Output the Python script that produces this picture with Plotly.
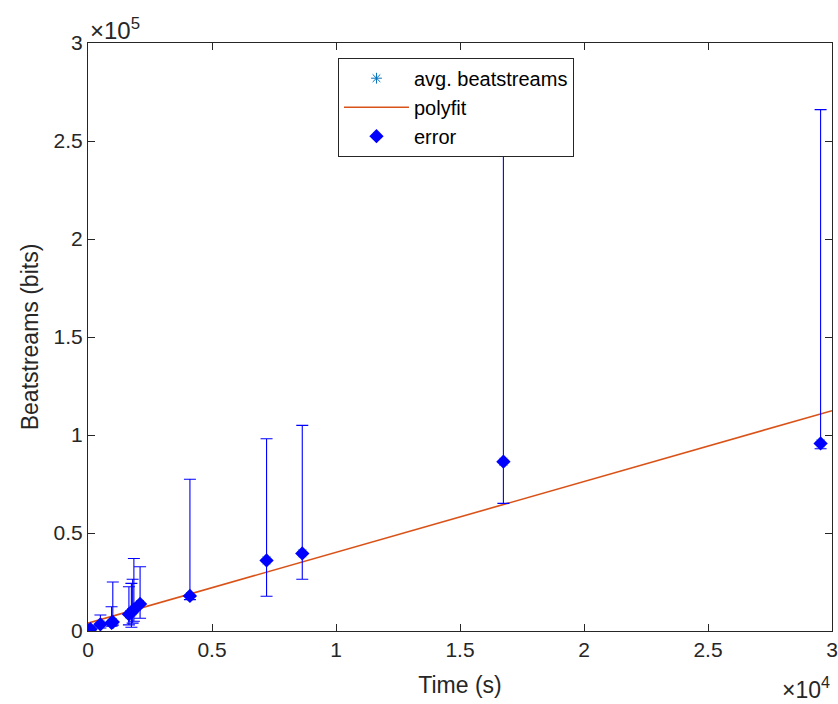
import plotly.graph_objects as go

# --- data ---
time_s = [20, 100, 500, 950, 1000, 1650, 1750, 1800, 1850, 2100, 4110, 7200, 8640, 16750, 29540]
avg_bits = [300, 900, 3400, 4200, 4600, 8500, 9500, 10200, 11000, 13800, 17900, 36000, 39600, 86400, 95700]
upper_bits = [1200, 2500, 8200, 12400, 25000, 22600, 24300, 26400, 37000, 32800, 77400, 98100, 104900, 262000, 266000]
lower_bits = [0, 0, 1500, 2500, 3000, 3100, 1900, 4000, 5000, 6500, 16000, 17700, 26400, 65100, 93000]

fit_x = [0, 30000]
fit_y = [4000, 112400]

x_ticks = [0, 5000, 10000, 15000, 20000, 25000, 30000]
x_tick_text = ["0", "0.5", "1", "1.5", "2", "2.5", "3"]
y_ticks = [0, 50000, 100000, 150000, 200000, 250000, 300000]
y_tick_text = ["0", "0.5", "1", "1.5", "2", "2.5", "3"]

err_plus = [u - a for u, a in zip(upper_bits, avg_bits)]
err_minus = [a - l for a, l in zip(avg_bits, lower_bits)]

FONT = "Liberation Sans, Arial, Helvetica, sans-serif"
AX = "#262626"

fig = go.Figure()
fig.add_trace(go.Scatter(
    x=time_s, y=avg_bits, mode="markers", name="avg. beatstreams",
    marker=dict(symbol="asterisk-open", size=9, color="#0072BD",
                line=dict(color="#0072BD", width=1)),
))
fig.add_trace(go.Scatter(
    x=fit_x, y=fit_y, mode="lines", name="polyfit",
    line=dict(color="#D95319", width=1.6),
))
fig.add_trace(go.Scatter(
    x=time_s, y=avg_bits, mode="markers", name="error",
    marker=dict(symbol="diamond", size=11, color="#0000FF",
                line=dict(width=0)),
    error_y=dict(type="data", symmetric=False, array=err_plus,
                 arrayminus=err_minus, color="#0000FF", thickness=1.1, width=6),
))

axis_common = dict(
    showgrid=False, zeroline=False, showline=True, linecolor=AX, linewidth=1,
    mirror="ticks", ticks="inside", ticklen=7, tickcolor=AX, tickwidth=1,
    tickfont=dict(family=FONT, size=21, color=AX), automargin=False,
)

fig.update_layout(
    width=838, height=704,
    margin=dict(l=88, r=6, t=43, b=73),
    paper_bgcolor="white", plot_bgcolor="white",
    font=dict(family=FONT, color=AX),
    xaxis=dict(range=[0, 30000], tickvals=x_ticks, ticktext=x_tick_text,
               title=dict(text="Time (s)", font=dict(family=FONT, size=23, color=AX), standoff=16),
               **axis_common),
    yaxis=dict(range=[0, 300000], tickvals=y_ticks, ticktext=y_tick_text,
               title=dict(text="Beatstreams (bits)", font=dict(family=FONT, size=23, color=AX), standoff=8),
               **axis_common),
    legend=dict(x=0.336, y=0.975, xanchor="left", yanchor="top",
                bgcolor="white", bordercolor=AX, borderwidth=1,
                font=dict(family=FONT, size=20, color="black"),
                itemwidth=65, tracegroupgap=0),
    showlegend=True,
    annotations=[
        dict(text="×10<sup>5</sup>", xref="paper", yref="paper", x=0.0, y=1.0,
             xanchor="left", yanchor="bottom", showarrow=False, yshift=-3,
             font=dict(family=FONT, size=24, color=AX)),
        dict(text="×10<sup>4</sup>", xref="paper", yref="paper", x=1.0, y=0.0,
             xanchor="right", yanchor="top", showarrow=False, yshift=-40,
             font=dict(family=FONT, size=23, color=AX)),
    ],
)

fig.write_html("out.html", config={"displayModeBar": False},
               post_script="document.body.style.margin='0';document.body.style.overflow='hidden';")
